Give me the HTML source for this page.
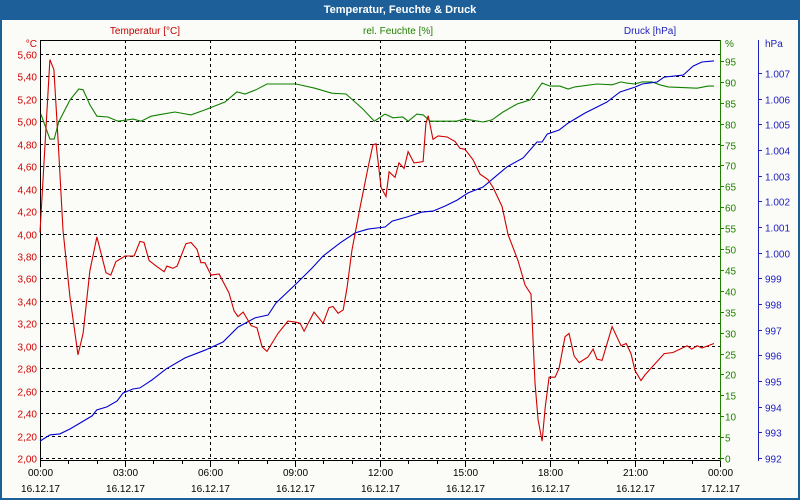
<!DOCTYPE html>
<html><head><meta charset="utf-8">
<style>
html,body{margin:0;padding:0;background:#fff;}
svg{display:block;font-family:"Liberation Sans",sans-serif;}
</style></head>
<body>
<svg id="chart" width="800" height="500" viewBox="0 0 800 500" xmlns="http://www.w3.org/2000/svg">
<rect x="0" y="0" width="800" height="500" fill="#1d5f98"/>
<rect x="2" y="20" width="796" height="478" fill="#fbfcf7"/>
<text x="400" y="13" text-anchor="middle" font-size="11" font-weight="bold" fill="#fff">Temperatur, Feuchte &amp; Druck</text>
<text x="145" y="34" text-anchor="middle" font-size="10" fill="#c00000">Temperatur [°C]</text>
<text x="398" y="34" text-anchor="middle" font-size="10" fill="#208000">rel. Feuchte [%]</text>
<text x="650" y="34" text-anchor="middle" font-size="10" fill="#2020c0">Druck [hPa]</text>
<g id="grid"></g>
<g id="axes"></g>
<g id="series"></g>
</svg>
<script>
const tempTimes=[0,0.35,0.49,0.64,0.81,1.06,1.34,1.52,1.76,2.01,2.33,2.5,2.68,3.0,3.32,3.53,3.67,3.85,4.1,4.38,4.48,4.69,4.84,5.15,5.33,5.54,5.68,5.82,6.04,6.32,6.67,6.85,6.99,7.17,7.45,7.66,7.84,8.01,8.4,8.75,9.04,9.18,9.32,9.67,9.99,10.2,10.34,10.52,10.7,10.84,11.01,11.3,11.58,11.75,11.86,12.04,12.21,12.32,12.53,12.67,12.85,12.99,13.2,13.52,13.62,13.7,13.87,14.05,14.37,14.65,14.82,15.0,15.28,15.53,15.81,15.99,16.31,16.52,16.87,17.12,17.33,17.47,17.58,17.72,17.83,17.97,18.18,18.32,18.53,18.67,18.85,19.03,19.34,19.52,19.66,19.84,20.19,20.51,20.69,20.86,21.0,21.21,21.35,21.78,22.03,22.34,22.84,23.0,23.19,23.36,23.79];
const tempValues=[4.01,5.55,5.46,4.83,4.03,3.43,2.92,3.11,3.67,3.97,3.65,3.63,3.75,3.80,3.80,3.93,3.92,3.76,3.71,3.66,3.71,3.69,3.71,3.91,3.92,3.86,3.74,3.74,3.63,3.64,3.47,3.31,3.26,3.30,3.18,3.16,2.99,2.95,3.11,3.22,3.21,3.20,3.13,3.30,3.20,3.34,3.35,3.29,3.32,3.52,3.85,4.24,4.59,4.79,4.80,4.41,4.33,4.55,4.50,4.63,4.58,4.73,4.63,4.64,4.98,5.05,4.84,4.87,4.86,4.82,4.76,4.75,4.66,4.53,4.48,4.41,4.24,3.99,3.76,3.54,3.46,2.67,2.34,2.15,2.45,2.72,2.72,2.80,3.08,3.11,2.91,2.85,2.90,2.97,2.88,2.87,3.17,3.00,3.02,2.93,2.78,2.69,2.74,2.86,2.93,2.94,3.00,2.97,3.00,2.98,3.02];
const humTimes=[0.03,0.35,0.5,0.66,1.06,1.37,1.52,1.76,2.01,2.4,2.75,3.28,3.57,3.92,4.34,4.76,5.33,5.82,6.53,6.95,7.24,7.62,8.01,9.04,9.7,10.3,10.8,11.4,11.8,12.18,12.46,12.8,13.0,13.3,13.52,13.77,14.7,15.0,15.64,15.95,16.34,16.84,17.3,17.47,17.72,18.0,18.35,18.64,18.88,19.66,20.19,20.51,20.7,21.0,21.25,21.6,21.88,22.17,23.19,23.58,23.79];
const humValues=[82.3,76.3,76.3,80.4,85.7,88.3,88.1,84.5,81.8,81.6,80.6,81.1,80.6,81.8,82.3,82.8,82.1,83.3,85.2,87.6,87.1,88.1,89.5,89.5,88.5,87.3,87.1,83.5,80.6,82.3,81.4,81.6,80.6,82.3,82.1,80.6,80.6,81.1,80.4,80.9,82.8,84.7,85.7,87.3,89.7,89.0,89.0,88.3,88.8,89.5,89.3,90.0,89.7,89.5,90.0,90.0,89.3,88.8,88.5,89.0,89.0];
const presTimes=[0,0.35,0.7,1.06,1.41,1.84,2.0,2.36,2.72,2.93,3.28,3.53,3.95,4.45,5.12,5.82,6.46,6.99,7.59,8.05,8.33,9.07,9.6,9.99,10.59,11.12,11.58,12.18,12.43,12.95,13.48,13.87,14.3,14.72,15.11,15.64,16.06,16.48,17.05,17.54,17.72,17.9,18.32,18.64,19.24,20.01,20.47,21.0,21.25,21.78,22.03,22.7,23.05,23.36,23.79];
const presValues=[992.66,992.9,992.94,993.13,993.36,993.64,993.87,993.99,994.22,994.53,994.69,994.73,995.04,995.47,995.9,996.2,996.52,997.1,997.46,997.57,998.04,998.82,999.4,999.87,1000.38,1000.77,1000.92,1001.0,1001.23,1001.39,1001.58,1001.62,1001.82,1002.05,1002.33,1002.56,1002.95,1003.34,1003.69,1004.31,1004.31,1004.62,1004.78,1005.05,1005.44,1005.87,1006.26,1006.45,1006.57,1006.65,1006.84,1006.92,1007.27,1007.43,1007.47];
const tempTicks=[2.0,2.2,2.4,2.6,2.8,3.0,3.2,3.4,3.6,3.8,4.0,4.2,4.4,4.6,4.8,5.0,5.2,5.4,5.6];
const humTicks=[0,5,10,15,20,25,30,35,40,45,50,55,60,65,70,75,80,85,90,95];
const presTicks=[992,993,994,995,996,997,998,999,1000,1001,1002,1003,1004,1005,1006,1007];
const timeTicks=[0,3,6,9,12,15,18,21,24];
const timeLabels=["00:00","03:00","06:00","09:00","12:00","15:00","18:00","21:00","00:00"];
const dateLabels=["16.12.17","16.12.17","16.12.17","16.12.17","16.12.17","16.12.17","16.12.17","16.12.17","17.12.17"];

const NS="http://www.w3.org/2000/svg";
const X0=40,X1=720,YB=458,YT=40;
const xS=t=>X0+t*(X1-X0)/24;
const yT=v=>YB-(v-2.0)*(YB-54)/3.6;
const yH=v=>YB-v*(YB-61)/95;
const yP=v=>YB-(v-992)*(YB-73)/15;
function mk(tag,attrs,parent){const e=document.createElementNS(NS,tag);for(const k in attrs)e.setAttribute(k,attrs[k]);parent.appendChild(e);return e;}
const grid=document.getElementById('grid'),axes=document.getElementById('axes'),series=document.getElementById('series');

tempTicks.forEach((v,i)=>{
  const y=Math.round(yT(v))+0.5;
  const l=mk('line',{x1:X0,x2:X1,y1:y,y2:y,stroke:'#000','stroke-dasharray':'3,3','stroke-width':1},grid);
  
  
  const t=mk('text',{x:37,y:y+4,'text-anchor':'end','font-size':10,fill:'#d00000'},axes);
  t.textContent=v.toFixed(2).replace('.',',');
  
  
});
timeTicks.forEach((h,i)=>{
  const x=Math.round(xS(h))+0.5;
  if(h>0&&h<24){
    const l=mk('line',{x1:x,x2:x,y1:YT,y2:460,stroke:'#000','stroke-dasharray':'3,3'},grid);
    
    
  }
  const t=mk('text',{x:x,y:476,'text-anchor':'middle','font-size':10,fill:'#000'},axes);
  t.textContent=timeLabels[i];
  
  
  const d=mk('text',{x:x,y:492,'text-anchor':'middle','font-size':10,fill:'#000'},axes);
  d.textContent=dateLabels[i];
  
  
});
for(let h=0;h<=24;h++){
  const x=Math.round(xS(h))+0.5;
  const m=mk('line',{x1:x,x2:x,y1:460,y2:h%3===0?467:464,stroke:'#000'},axes);
  
  
}
humTicks.forEach(v=>{
  const y=Math.round(yH(v))+0.5;
  const k=mk('line',{x1:X1,x2:X1+4,y1:y,y2:y,stroke:'#208000'},axes);
  
  
  const t=mk('text',{x:725,y:y+4,'font-size':10,fill:'#208000'},axes);
  t.textContent=v;
  
  
});
presTicks.forEach(v=>{
  const y=Math.round(yP(v))+0.5;
  const k=mk('line',{x1:758,x2:762,y1:y,y2:y,stroke:'#2020c0'},axes);
  
  
  const t=mk('text',{x:765,y:y+4,'font-size':10,fill:'#2020c0'},axes);
  t.textContent=v>=1000?('1.'+String(v-1000).padStart(3,'0')):String(v);
  
  
});
[['°C',37,47,'end','#d00000','temperature-unit'],['%',725,47,'start','#208000','humidity-unit'],['hPa',765,47,'start','#2020c0','pressure-unit']].forEach(u=>{
  const t=mk('text',{x:u[1],y:u[2],'text-anchor':u[3],'font-size':10,fill:u[4]},axes);
  t.textContent=u[0];
  
  
});
const ax=[[40.5,YT,40.5,461,'#000','left-axis'],[X0,40.5,X1,40.5,'#000','top-border'],[X0,460.5,X1,460.5,'#000','x-axis'],[720.5,YT,720.5,461,'#208000','humidity-axis'],[758.5,YT,758.5,461,'#2020c0','pressure-axis']];
ax.forEach(a=>{
  const l=mk('line',{x1:a[0],y1:a[1],x2:a[2],y2:a[3],stroke:a[4],'stroke-width':1},axes);
  
  
});
function line(ts,vs,yf,color,name){
  const d=ts.map((t,i)=>(i?'L':'M')+xS(t).toFixed(1)+','+yf(vs[i]).toFixed(1)).join(' ');
  const p=mk('path',{d:d,fill:'none',stroke:color,'stroke-width':1.1},series);
  
  
}
line(humTimes,humValues,yH,'#108000','humidity-line');
line(presTimes,presValues,yP,'#0000d0','pressure-line');
line(tempTimes,tempValues,yT,'#d00000','temperature-line');
</script>
</body></html>
